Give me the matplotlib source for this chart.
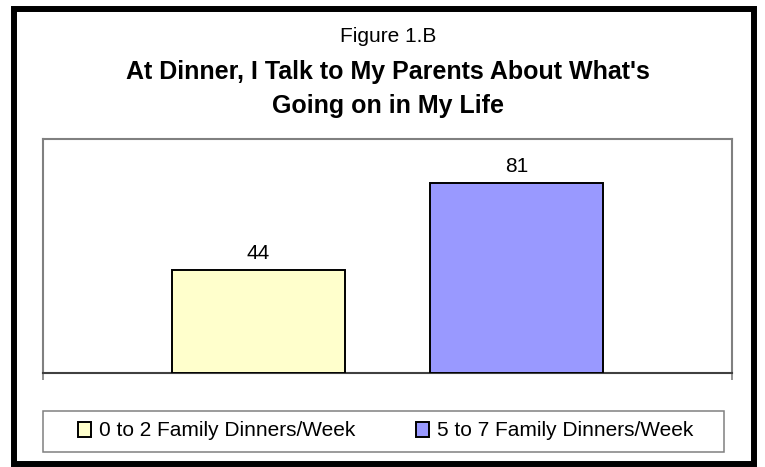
import matplotlib
matplotlib.use('Agg')
import matplotlib.pyplot as plt
from matplotlib.patches import Rectangle

plt.rcParams['font.family'] = ['Liberation Sans', 'DejaVu Sans']

# data
series_names = ["0 to 2 Family Dinners/Week", "5 to 7 Family Dinners/Week"]
values = [44, 81]
bar_colors = ["#FFFFCC", "#9999FF"]
fig_label = "Figure 1.B"
title = "At Dinner, I Talk to My Parents About What's\nGoing on in My Life"

W, H = 765, 467
fig = plt.figure(figsize=(W / 100, H / 100), dpi=100)
fig.patch.set_facecolor('white')

def fx(px):
    return px / W

def fy(py):
    return 1 - py / H

# outer black frame
fig.patches.append(Rectangle((fx(14), fy(464)), fx(754) - fx(14), fy(9) - fy(464),
                             transform=fig.transFigure, fill=False,
                             edgecolor='black', linewidth=4.3, zorder=0))

# titles
fig.text(fx(388), fy(37), fig_label, ha='center', va='center', fontsize=15)
fig.text(fx(388), fy(89), title, ha='center', va='center', fontsize=18,
         fontweight='bold', linespacing=1.57)

# plot area
ax = fig.add_axes([fx(43), fy(373), fx(732) - fx(43), fy(139) - fy(373)])
positions = [-0.5, 0.5]
bars = ax.bar(positions, values, width=0.667, color=bar_colors,
              edgecolor='black', linewidth=1.4, zorder=3)
for p, v in zip(positions, values):
    ax.text(p, v + 3.2, str(v), ha='center', va='bottom', fontsize=15)

ax.set_xlim(-1.335, 1.335)
ax.set_ylim(0, 100)
ax.set_yticks([])
ax.set_xticks([-1.335, 1.335])
ax.set_xticklabels([])
ax.tick_params(axis='x', length=5, width=1.2, color='#808080', direction='out')
for side in ['top', 'left', 'right']:
    ax.spines[side].set_color('#808080')
    ax.spines[side].set_linewidth(1.5)
ax.spines['bottom'].set_color('#404040')
ax.spines['bottom'].set_linewidth(1.5)

# legend box
fig.patches.append(Rectangle((fx(43), fy(452)), fx(724) - fx(43), fy(411) - fy(452),
                             transform=fig.transFigure, fill=False,
                             edgecolor='#808080', linewidth=1.1))
leg = fig.legend(handles=list(bars), labels=series_names, loc='center',
                 bbox_to_anchor=(fx(386), fy(431)), ncol=2, frameon=False,
                 fontsize=15, handlelength=0.62, handleheight=0.7,
                 handletextpad=0.4, columnspacing=2.9, borderpad=0)

fig.savefig('out.png', dpi=100)
